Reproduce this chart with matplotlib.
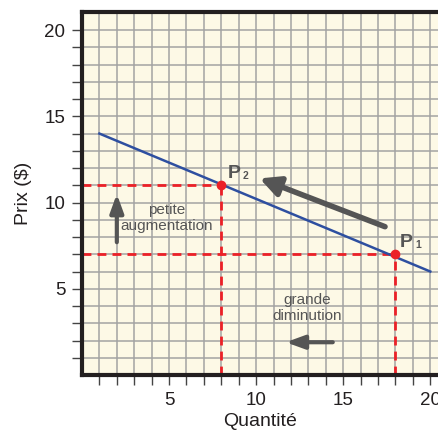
import matplotlib
matplotlib.use("Agg")
import matplotlib.pyplot as plt

plt.rcParams['font.family'] = ['Liberation Sans', 'DejaVu Sans']

# Data
demand_x = [1, 20]
demand_y = [14, 6]
p1 = (18, 7)
p2 = (8, 11)
x_ticks = [5, 10, 15, 20]
y_ticks = [5, 10, 15, 20]

fig = plt.figure(figsize=(4.38, 4.41), dpi=100)
ax = fig.add_axes([82/438, 66/441, 357/438, 363/441])
ax.set_xlim(0, 20.5)
ax.set_ylim(0, 21.05)
ax.set_facecolor('#fdf9e6')

# grid
for v in range(1, 21):
    ax.axvline(v, color='#a3a3a3', lw=1.1, zorder=1)
for v in range(1, 22):
    ax.axhline(v, color='#a3a3a3', lw=1.1, zorder=1)

# spines
for s in ['left', 'bottom', 'top']:
    ax.spines[s].set_linewidth(3)
    ax.spines[s].set_color('#231f20')
ax.spines['right'].set_visible(False)

ax.set_xticks(range(1, 21))
ax.set_xticklabels([str(v) if v in x_ticks else '' for v in range(1, 21)])
ax.set_yticks(range(1, 21))
ax.set_yticklabels([str(v) if v in y_ticks else '' for v in range(1, 21)])
ax.tick_params(axis='both', length=7, width=1, color='#444444', labelsize=13.5,
               labelcolor='#231f20', pad=5)
ax.set_xlabel('Quantité', fontsize=14, color='#231f20', labelpad=3)
ax.set_ylabel('Prix ($)', fontsize=14, color='#231f20', labelpad=9)

# demand line
ax.plot(demand_x, demand_y, color='#2e4fa0', lw=1.8, zorder=3)

# dashed guides
red = '#ec2027'
for (px, py) in [p1, p2]:
    ax.plot([0, px], [py, py], color=red, lw=2, ls=(0, (3.2, 2.2)), zorder=2)
    ax.plot([px, px], [0, py], color=red, lw=2, ls=(0, (3.2, 2.2)), zorder=2)
    ax.plot(px, py, 'o', color=red, ms=6, zorder=4)

# point labels
ax.text(p2[0] + 0.35, p2[1] + 0.45, 'P', fontsize=14, fontweight='bold', color='#555555', zorder=5)
ax.text(p2[0] + 1.25, p2[1] + 0.35, '2', fontsize=7.5, fontweight='bold', color='#555555', zorder=5)
ax.text(p1[0] + 0.25, p1[1] + 0.45, 'P', fontsize=14, fontweight='bold', color='#555555', zorder=5)
ax.text(p1[0] + 1.15, p1[1] + 0.35, '1', fontsize=7.5, fontweight='bold', color='#555555', zorder=5)

arrow_col = '#555555'
# big diagonal arrow
ax.annotate('', xy=(10.2, 11.4), xytext=(17.4, 8.6),
            arrowprops=dict(arrowstyle='-|>,head_length=1.2,head_width=0.6', lw=4, color=arrow_col,
                            shrinkA=0, shrinkB=0), zorder=5)
# up arrow
ax.annotate('', xy=(2, 10.5), xytext=(2, 7.7),
            arrowprops=dict(arrowstyle='-|>,head_length=1.1,head_width=0.4', lw=3, color=arrow_col,
                            shrinkA=0, shrinkB=0), zorder=5)
# left arrow
ax.annotate('', xy=(11.7, 1.9), xytext=(14.4, 1.9),
            arrowprops=dict(arrowstyle='-|>,head_length=1.1,head_width=0.4', lw=3, color=arrow_col,
                            shrinkA=0, shrinkB=0), zorder=5)

ax.text(4.85, 9.1, 'petite\naugmentation', ha='center', va='center', fontsize=11,
        color='#555555', linespacing=1.15, zorder=5)
ax.text(12.95, 3.9, 'grande\ndiminution', ha='center', va='center', fontsize=11,
        color='#555555', linespacing=1.15, zorder=5)

fig.savefig('out.png', dpi=100)
